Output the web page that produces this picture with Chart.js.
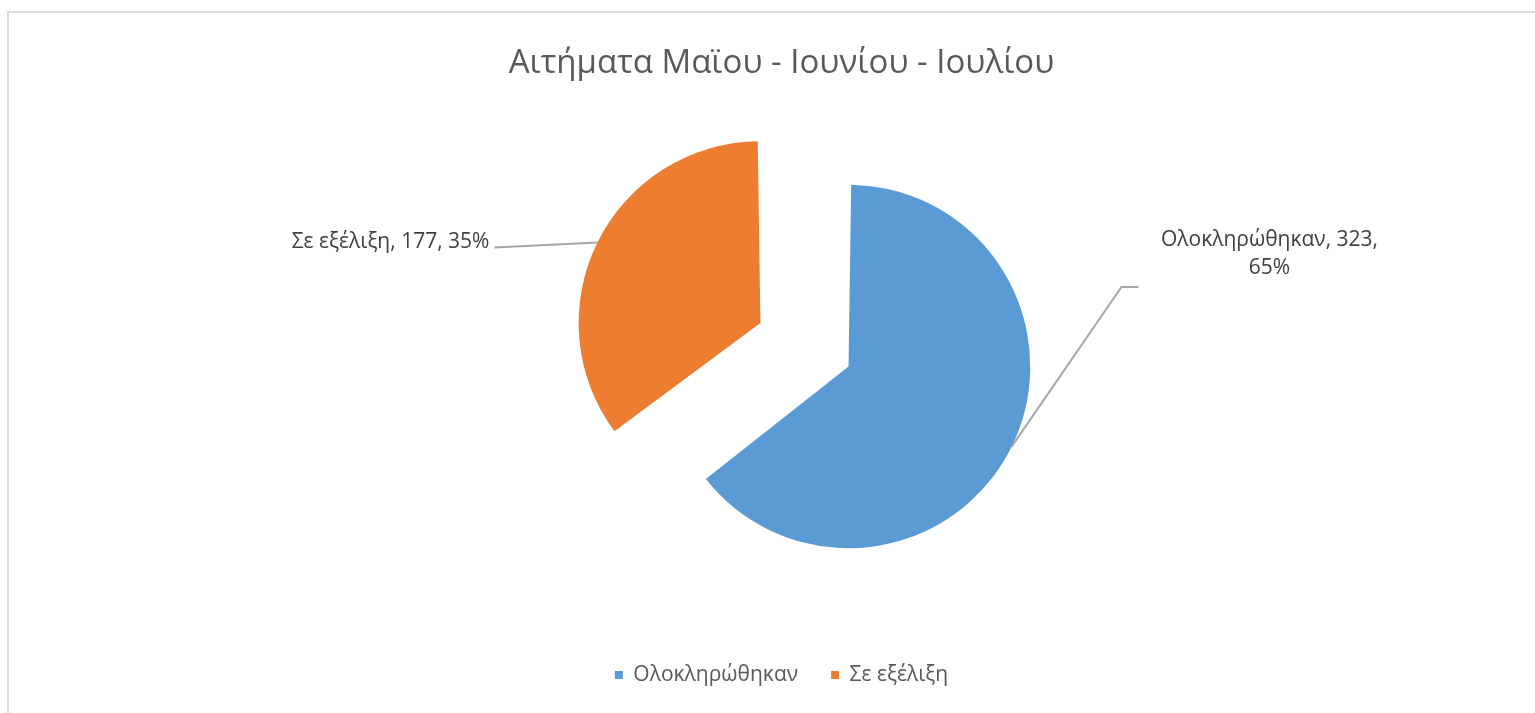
<!DOCTYPE html>
<html lang="el">
<head>
<meta charset="utf-8">
<script src="https://cdn.jsdelivr.net/npm/chart.js@4"></script>
<style>
  html, body { margin: 0; padding: 0; background: #fff; overflow: hidden; }
  #frame {
    position: absolute; left: 7px; top: 11px; width: 1600px; height: 800px;
    border-top: 2px solid #d9d9d9; border-left: 2px solid #d9d9d9;
  }
  #wrap { position: absolute; left: 0; top: 0; width: 1535px; height: 713px; }
</style>
</head>
<body>
<div id="frame"></div>
<div id="wrap"><canvas id="requests-chart"></canvas></div>
<script>
const chartTitle = "Αιτήματα Μαϊου - Ιουνίου - Ιουλίου";
const categories = ["Ολοκληρώθηκαν", "Σε εξέλιξη"];
const requests = [323, 177];

const colors = ["#5B9BD5", "#ED7D31"];
const fontFamily = "'Open Sans', 'Noto Sans', sans-serif";

// where each data label sits, measured from the outer middle of its slice
const labelPlacement = [
    { elbow: { dx: 110, dy: -160 }, end: { dx: 127, dy: -160 }, text: { dx: 258, dy: -201 }, align: "center", wrap: true },
    { end: { dx: -103, dy: 5 }, text: { dx: -108, dy: 6 }, align: "right", wrap: false },
];

const sliceLabels = {
    id: "sliceLabels",
    afterDatasetsDraw(chart, args, opts) {
        const { ctx } = chart;
        const meta = chart.getDatasetMeta(0);
        const values = chart.data.datasets[0].data;
        const total = values.reduce((a, b) => a + b, 0);

        ctx.save();
        ctx.font = opts.font;
        ctx.fillStyle = opts.color;
        ctx.strokeStyle = opts.lineColor;
        ctx.lineWidth = opts.lineWidth;
        ctx.textBaseline = "alphabetic";

        meta.data.forEach((arc, i) => {
            const place = opts.placement[i];
            const { x, y, startAngle, endAngle, outerRadius, circumference } = arc.getProps(
                ["x", "y", "startAngle", "endAngle", "outerRadius", "circumference"], true);
            const mid = (startAngle + endAngle) / 2;
            // same shift and radius the arc element uses when it draws an offset slice
            const shift = (arc.options.offset || 0) / 4;
            const r = outerRadius + shift * (1 - Math.sin(Math.min(Math.PI, circumference)));
            const ax = x + Math.cos(mid) * (shift + r);
            const ay = y + Math.sin(mid) * (shift + r);

            ctx.beginPath();
            ctx.moveTo(ax, ay);
            if (place.elbow) ctx.lineTo(ax + place.elbow.dx, ay + place.elbow.dy);
            ctx.lineTo(ax + place.end.dx, ay + place.end.dy);
            ctx.stroke();

            const pct = Math.round(values[i] / total * 100) + "%";
            const label = chart.data.labels[i];
            const lines = place.wrap
                ? [label + ", " + values[i] + ",", pct]
                : [label + ", " + values[i] + ", " + pct];
            ctx.textAlign = place.align;
            lines.forEach((line, j) => {
                ctx.fillText(line, ax + place.text.dx, ay + place.text.dy + j * opts.lineHeight);
            });
        });
        ctx.restore();
    },
};

new Chart(document.getElementById("requests-chart"), {
    type: "pie",
    data: {
        labels: categories,
        datasets: [
            {
                data: requests,
                backgroundColor: colors,
                borderWidth: 0,
                offset: [67, 326],
                hoverOffset: 0,
            },
        ],
    },
    options: {
        responsive: true,
        maintainAspectRatio: false,
        animation: false,
        radius: 165,
        layout: {
            padding: { left: 28, right: 0, top: 0, bottom: 17.5 },
        },
        plugins: {
            title: {
                display: true,
                text: chartTitle,
                color: "#595959",
                font: { family: fontFamily, size: 33, weight: "normal" },
                padding: { top: 44, bottom: 3 },
            },
            // empty box on the left: pushes the pie to the right of the title's centre
            subtitle: {
                display: true,
                position: "left",
                text: "",
                font: { size: 10 },
                padding: { top: 0, bottom: 92 },
            },
            legend: {
                position: "bottom",
                labels: {
                    boxWidth: 8,
                    boxHeight: 8,
                    padding: 33,
                    color: "#595959",
                    font: { family: fontFamily, size: 21 },
                },
            },
            tooltip: { enabled: false },
            sliceLabels: {
                placement: labelPlacement,
                font: "21px " + fontFamily,
                color: "#404040",
                lineColor: "#a6a6a6",
                lineWidth: 2,
                lineHeight: 28.5,
            },
        },
    },
    plugins: [sliceLabels],
});
</script>
</body>
</html>
